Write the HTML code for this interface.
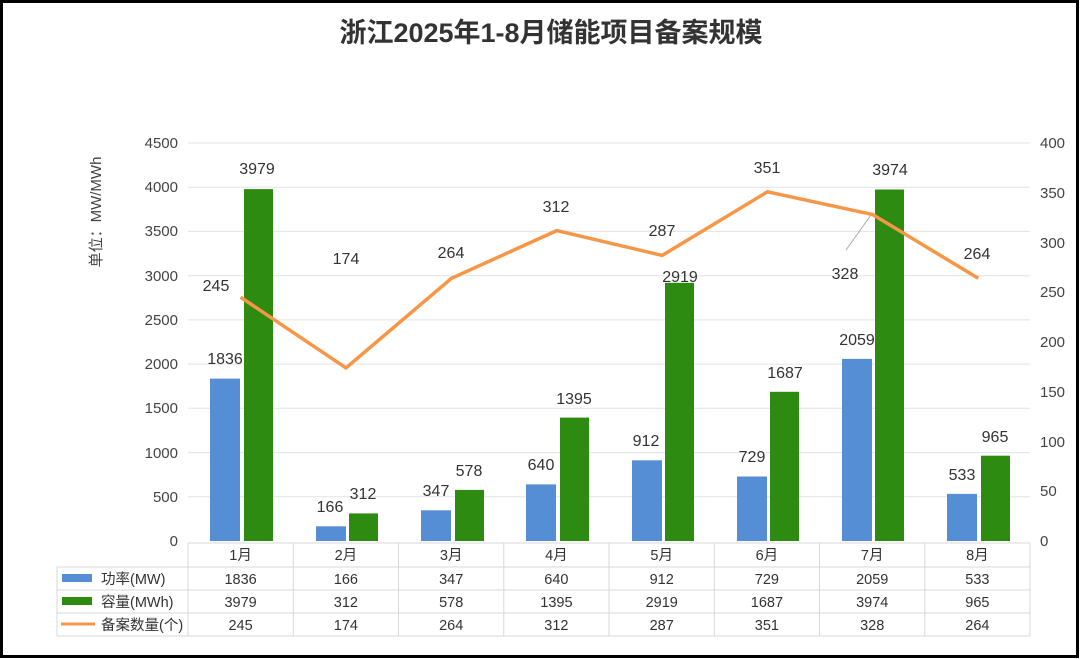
<!DOCTYPE html>
<html><head><meta charset="utf-8"><style>
body{margin:0;background:#fff}
svg{display:block;font-family:"Liberation Sans","Noto Sans CJK SC",sans-serif}
</style></head><body>
<svg width="1080" height="659" viewBox="0 0 1080 659">
<rect x="1.5" y="1.5" width="1076" height="655" fill="#fff" stroke="#000" stroke-width="3"/>
<text x="551" y="42" font-size="27" font-weight="bold" text-anchor="middle" fill="#333">浙江2025年1-8月储能项目备案规模</text>
<g stroke="#e3e3e3" stroke-width="1">
<line x1="188" x2="1030" y1="143" y2="143"/><line x1="188" x2="1030" y1="187.2" y2="187.2"/><line x1="188" x2="1030" y1="231.4" y2="231.4"/><line x1="188" x2="1030" y1="275.7" y2="275.7"/><line x1="188" x2="1030" y1="319.9" y2="319.9"/><line x1="188" x2="1030" y1="364.1" y2="364.1"/><line x1="188" x2="1030" y1="408.3" y2="408.3"/><line x1="188" x2="1030" y1="452.6" y2="452.6"/><line x1="188" x2="1030" y1="496.8" y2="496.8"/>
</g>
<g font-size="15" fill="#444" text-anchor="end">
<text x="178" y="148">4500</text><text x="178" y="192">4000</text><text x="178" y="236">3500</text><text x="178" y="281">3000</text><text x="178" y="325">2500</text><text x="178" y="369">2000</text><text x="178" y="413">1500</text><text x="178" y="458">1000</text><text x="178" y="502">500</text><text x="178" y="546">0</text>
</g>
<g font-size="15" fill="#444">
<text x="1040" y="148">400</text><text x="1040" y="198">350</text><text x="1040" y="248">300</text><text x="1040" y="297">250</text><text x="1040" y="347">200</text><text x="1040" y="397">150</text><text x="1040" y="447">100</text><text x="1040" y="496">50</text><text x="1040" y="546">0</text>
</g>
<text transform="translate(101,212) rotate(-90)" font-size="15" fill="#444" text-anchor="middle">单位：MW/MWh</text>
<g fill="#558ed5">
<rect x="210" y="378.6" width="30" height="162.4"/><rect x="316" y="526.3" width="30" height="14.7"/><rect x="421" y="510.3" width="30" height="30.7"/><rect x="526" y="484.4" width="30" height="56.6"/><rect x="632" y="460.3" width="30" height="80.7"/><rect x="737" y="476.5" width="30" height="64.5"/><rect x="842" y="358.9" width="30" height="182.1"/><rect x="947" y="493.9" width="30" height="47.1"/>
</g>
<g fill="#2e8b12">
<rect x="244" y="189.1" width="29" height="351.9"/><rect x="349" y="513.4" width="29" height="27.6"/><rect x="455" y="489.9" width="29" height="51.1"/><rect x="560" y="417.6" width="29" height="123.4"/><rect x="665" y="282.8" width="29" height="258.2"/><rect x="770" y="391.8" width="29" height="149.2"/><rect x="875" y="189.5" width="29" height="351.5"/><rect x="981" y="455.7" width="29" height="85.3"/>
</g>
<line x1="846" y1="250" x2="871" y2="215" stroke="#aaa" stroke-width="1"/>
<polyline fill="none" stroke="#f79646" stroke-width="3.5" stroke-linejoin="round" points="240.6,297.2 346,367.9 451.5,278.3 556.8,230.6 662.2,255.4 767.5,191.8 872.8,214.6 978.2,278.3"/>
<g font-size="16" fill="#333" text-anchor="middle">
<text x="225" y="364">1836</text><text x="257" y="174">3979</text>
<text x="330" y="512">166</text><text x="363" y="499">312</text>
<text x="436" y="496">347</text><text x="469" y="476">578</text>
<text x="541" y="470">640</text><text x="574" y="404">1395</text>
<text x="646" y="446">912</text><text x="680" y="282">2919</text>
<text x="752" y="462">729</text><text x="785" y="378">1687</text>
<text x="857" y="345">2059</text><text x="890" y="175">3974</text>
<text x="962" y="480">533</text><text x="995" y="442">965</text>
<text x="216" y="291">245</text><text x="346" y="264">174</text><text x="451" y="258">264</text><text x="556" y="212">312</text><text x="662" y="236">287</text><text x="767" y="173">351</text><text x="845" y="279">328</text><text x="977" y="259">264</text>
</g>
<g stroke="#d9d9d9" stroke-width="1" fill="none">
<line x1="188" y1="543" x2="1030" y2="543"/>
<line x1="57" y1="567" x2="1030" y2="567"/><line x1="57" y1="590" x2="1030" y2="590"/><line x1="57" y1="613" x2="1030" y2="613"/><line x1="57" y1="636" x2="1030" y2="636"/>
<line x1="57" y1="567" x2="57" y2="636"/>
<line x1="188" y1="543" x2="188" y2="636"/><line x1="293.3" y1="543" x2="293.3" y2="636"/><line x1="398.5" y1="543" x2="398.5" y2="636"/><line x1="503.8" y1="543" x2="503.8" y2="636"/><line x1="609" y1="543" x2="609" y2="636"/><line x1="714.3" y1="543" x2="714.3" y2="636"/><line x1="819.5" y1="543" x2="819.5" y2="636"/><line x1="924.8" y1="543" x2="924.8" y2="636"/><line x1="1030" y1="543" x2="1030" y2="636"/>
</g>
<rect x="62" y="574" width="30" height="8" fill="#558ed5"/>
<rect x="62" y="597" width="30" height="8" fill="#2e8b12"/>
<line x1="61" y1="624" x2="95" y2="624" stroke="#f79646" stroke-width="3"/>
<g font-size="14.5" fill="#333">
<text x="101" y="584">功率(MW)</text><text x="101" y="607">容量(MWh)</text><text x="101" y="630">备案数量(个)</text>
</g>
<g font-size="14.5" fill="#333" text-anchor="middle">
<text x="240.6" y="560">1月</text><text x="345.9" y="560">2月</text><text x="451.2" y="560">3月</text><text x="556.4" y="560">4月</text><text x="661.7" y="560">5月</text><text x="766.9" y="560">6月</text><text x="872.2" y="560">7月</text><text x="977.4" y="560">8月</text>
<text x="240.6" y="584">1836</text><text x="345.9" y="584">166</text><text x="451.2" y="584">347</text><text x="556.4" y="584">640</text><text x="661.7" y="584">912</text><text x="766.9" y="584">729</text><text x="872.2" y="584">2059</text><text x="977.4" y="584">533</text>
<text x="240.6" y="607">3979</text><text x="345.9" y="607">312</text><text x="451.2" y="607">578</text><text x="556.4" y="607">1395</text><text x="661.7" y="607">2919</text><text x="766.9" y="607">1687</text><text x="872.2" y="607">3974</text><text x="977.4" y="607">965</text>
<text x="240.6" y="630">245</text><text x="345.9" y="630">174</text><text x="451.2" y="630">264</text><text x="556.4" y="630">312</text><text x="661.7" y="630">287</text><text x="766.9" y="630">351</text><text x="872.2" y="630">328</text><text x="977.4" y="630">264</text>
</g>
</svg>
</body></html>
